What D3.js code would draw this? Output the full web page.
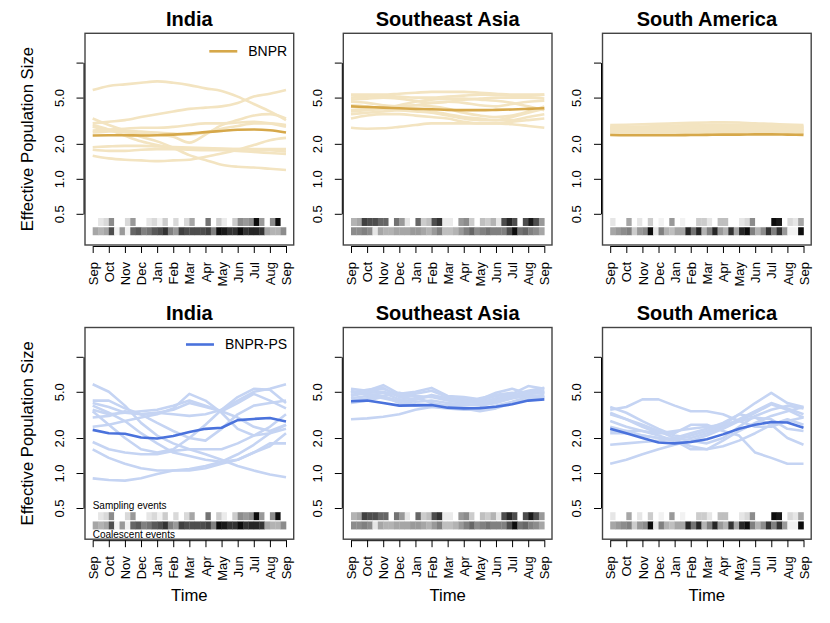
<!DOCTYPE html>
<html><head><meta charset="utf-8">
<script src="https://cdn.jsdelivr.net/npm/d3@7"></script>
<style>
body{margin:0;background:#fff}
svg{display:block}
text{font-family:"Liberation Sans",Arial,Helvetica,sans-serif;fill:#000}
</style>
</head><body><svg id="c" width="830" height="623"></svg>
<script>
const months = ["Sep","Oct","Nov","Dec","Jan","Feb","Mar","Apr","May","Jun","Jul","Aug","Sep"];
const regions = ["India","Southeast Asia","South America"];
const methods = ["BNPR","BNPR-PS"];
const yTickValues = [0.5,1,2,5,10];
const yTickLabels = ["0.5","1.0","2.0","5.0",""];
const heatLabels = ["Sampling events","Coalescent events"];

// ---- BNPR (top row) ----
const indiaBNPRMean = [2.36,2.37,2.37,2.36,2.37,2.4,2.45,2.52,2.58,2.64,2.66,2.62,2.5];
const indiaBNPRSamples = [
 [5.8,6.3,6.5,6.7,6.9,6.7,6.4,6.0,5.7,5.1,4.4,3.8,3.2],
 [3.0,3.1,3.2,3.4,3.6,3.8,4.0,4.1,4.2,4.5,5.1,5.4,5.8],
 [3.3,2.9,2.6,2.3,2.1,1.85,1.6,1.45,1.32,1.27,1.25,1.22,1.19],
 [1.58,1.5,1.46,1.44,1.42,1.44,1.46,1.55,1.65,1.78,1.95,2.15,2.25],
 [1.87,1.9,1.92,1.92,1.9,1.88,1.86,1.84,1.82,1.8,1.8,1.8,1.8],
 [1.78,1.74,1.74,1.78,1.8,1.8,1.78,1.76,1.76,1.74,1.7,1.67,1.64],
 [2.9,2.65,2.35,2.1,1.95,1.85,1.82,1.8,1.8,1.8,1.78,1.76,1.72],
 [2.8,2.6,2.5,2.45,2.4,2.3,2.05,2.4,2.9,3.2,3.5,3.6,3.3],
 [2.6,2.65,2.7,2.75,2.75,2.8,2.9,3.0,3.0,3.05,3.1,3.0,2.8],
 [2.5,2.55,2.6,2.55,2.5,2.45,2.4,2.5,2.7,2.85,3.0,3.0,2.9]
];
const seaBNPRMean = [4.2,4.15,4.1,4.05,4.0,3.97,3.92,3.9,3.9,3.92,3.95,4.0,4.05];
const seaBNPRSamples = [
 [5.3,5.3,5.3,5.4,5.5,5.6,5.6,5.6,5.5,5.4,5.3,5.3,5.3],
 [5.0,5.1,5.2,5.1,5.0,5.0,5.1,5.2,5.3,5.3,5.2,5.2,5.3],
 [4.8,4.9,5.0,4.9,4.7,4.5,4.6,4.8,4.9,5.0,5.0,5.0,4.9],
 [4.6,4.5,4.3,4.2,4.3,4.5,4.6,4.5,4.3,4.2,4.4,4.6,4.7],
 [3.9,4.0,4.1,4.2,4.3,4.2,4.0,3.7,3.5,3.4,3.5,3.8,4.2],
 [3.6,3.7,3.8,3.9,3.9,3.8,3.6,3.4,3.3,3.2,3.2,3.4,3.6],
 [3.3,3.5,3.6,3.6,3.5,3.4,3.3,3.1,3.0,3.0,3.1,3.2,3.3],
 [2.75,2.7,2.72,2.8,2.9,3.0,3.0,3.0,3.0,3.0,2.95,2.85,2.75],
 [4.3,4.2,4.0,3.9,3.8,3.7,3.5,3.3,3.2,3.2,3.4,3.7,4.0],
 [3.8,3.9,4.0,4.3,4.6,4.8,4.9,4.9,4.8,4.7,4.5,4.2,3.9]
];
const saBNPRMean = [2.38,2.37,2.37,2.37,2.37,2.38,2.39,2.4,2.4,2.41,2.41,2.4,2.39];
const saBNPRSamples = [
 [2.9,2.92,2.95,2.97,3.0,3.03,3.05,3.07,3.05,3.0,2.97,2.93,2.9],
 [2.8,2.8,2.82,2.85,2.88,2.9,2.92,2.93,2.92,2.9,2.87,2.83,2.8],
 [2.7,2.72,2.73,2.75,2.78,2.8,2.82,2.84,2.85,2.83,2.8,2.77,2.73],
 [2.6,2.62,2.63,2.65,2.67,2.7,2.72,2.75,2.75,2.73,2.7,2.67,2.63],
 [2.5,2.52,2.54,2.55,2.57,2.6,2.63,2.65,2.65,2.63,2.6,2.57,2.55],
 [2.45,2.45,2.45,2.46,2.48,2.5,2.52,2.55,2.57,2.58,2.56,2.52,2.48],
 [2.55,2.57,2.58,2.58,2.6,2.63,2.67,2.7,2.72,2.72,2.68,2.63,2.6],
 [2.75,2.74,2.72,2.7,2.72,2.75,2.8,2.86,2.9,2.92,2.9,2.86,2.8],
 [2.4,2.4,2.41,2.42,2.43,2.45,2.47,2.5,2.5,2.5,2.48,2.45,2.43],
 [2.65,2.67,2.7,2.72,2.73,2.75,2.78,2.8,2.78,2.75,2.72,2.7,2.68]
];

// ---- BNPR-PS (bottom row) ----
const indiaPSMean = [2.35,2.2,2.18,2.02,1.98,2.08,2.25,2.4,2.45,2.85,2.92,2.97,2.78];
const indiaPSSamples = [
 [5.8,5.0,3.8,2.7,2.1,1.8,1.6,1.45,1.3,1.15,1.05,0.97,0.92],
 [0.9,0.87,0.86,0.9,0.98,1.05,1.08,1.15,1.25,1.45,1.75,2.2,2.6],
 [4.2,4.2,3.6,3.2,3.3,3.5,4.0,3.7,3.4,3.0,2.5,2.3,2.6],
 [3.5,3.2,3.3,3.4,3.5,3.8,4.2,3.8,3.4,4.0,4.8,4.2,3.6],
 [3.0,3.1,3.4,3.2,2.7,2.3,2.0,1.9,2.4,3.2,3.8,4.0,4.2],
 [1.85,1.6,1.5,1.45,1.45,1.55,1.6,1.6,1.6,1.8,2.1,2.5,3.2],
 [1.6,1.35,1.2,1.1,1.05,1.05,1.05,1.1,1.2,1.3,1.5,1.7,2.2],
 [3.4,2.6,2.0,1.6,1.5,1.6,2.0,2.6,3.5,4.5,5.3,5.2,4.0],
 [2.5,2.6,2.8,3.0,3.2,3.6,4.8,4.2,3.3,2.4,2.1,2.2,2.4],
 [3.8,3.3,2.8,2.2,1.8,1.5,1.4,1.3,1.25,1.3,1.5,1.8,1.8],
 [4.0,3.7,3.3,3.2,3.3,3.2,3.1,3.2,3.5,4.2,5.0,5.3,5.8]
];
const seaPSMean = [4.15,4.2,4.0,3.8,3.82,3.85,3.65,3.6,3.62,3.72,3.9,4.2,4.3];
const seaPSSamples = [
 [2.9,2.95,3.05,3.2,3.5,3.7,3.8,3.8,3.9,4.1,4.4,4.6,4.5],
 [5.3,5.1,5.7,4.8,5.0,5.4,4.6,4.5,4.3,4.9,5.3,4.8,5.0],
 [4.9,5.2,5.4,4.5,4.3,4.7,4.4,4.3,4.2,4.6,4.8,5.6,5.3],
 [4.6,4.9,5.0,4.6,4.6,4.5,4.2,4.0,4.1,4.3,4.6,5.0,5.1],
 [4.4,4.6,4.9,4.3,4.1,4.2,4.0,3.9,3.8,4.0,4.4,4.8,4.9],
 [5.0,4.8,4.6,4.9,4.5,4.0,3.8,3.9,4.4,4.7,4.9,4.6,4.5],
 [4.2,4.4,4.6,4.0,3.8,3.7,3.6,3.5,3.5,3.8,4.1,4.5,4.6],
 [4.7,5.0,5.3,4.7,4.8,5.1,4.5,4.2,4.0,4.4,4.7,5.1,5.4],
 [4.0,4.2,4.5,4.2,3.9,3.8,3.7,3.6,3.4,3.6,4.0,4.3,4.4],
 [5.1,4.7,4.4,4.1,4.3,4.6,4.3,4.1,4.0,4.2,4.5,4.9,4.8]
];
const saPSMean = [2.4,2.2,2.0,1.83,1.8,1.85,1.95,2.15,2.4,2.6,2.75,2.72,2.45];
const saPSSamples = [
 [1.2,1.3,1.45,1.6,1.75,1.9,2.1,2.4,2.8,3.3,3.9,3.5,3.0],
 [3.7,3.3,2.8,2.4,2.1,2.0,2.2,2.5,2.9,3.4,4.0,3.6,3.2],
 [3.5,3.7,4.3,4.3,3.8,3.4,3.4,3.2,2.8,2.5,2.5,2.8,3.0],
 [3.2,2.9,2.6,2.3,2.0,1.9,1.8,2.0,2.5,3.1,3.5,3.8,3.6],
 [2.8,2.5,2.3,2.1,1.9,1.6,1.6,1.9,2.3,2.7,3.1,3.4,3.7],
 [2.3,2.3,2.3,2.2,2.2,2.6,2.6,2.3,2.1,1.5,1.35,1.2,1.2],
 [1.75,1.8,1.85,1.9,2.0,2.2,2.4,2.7,3.2,4.0,4.9,4.0,3.7],
 [2.2,2.2,2.1,2.0,1.9,2.1,2.3,2.6,3.2,3.0,2.9,2.4,2.3],
 [2.5,2.3,2.1,2.0,1.95,1.7,1.6,1.7,1.9,2.2,2.6,2.9,2.6],
 [3.3,2.9,2.5,2.2,2.3,2.4,2.5,2.6,2.8,3.0,2.6,2.0,1.75]
];

// ---- event heatmaps (36 bins, 0 = none, 1 = most) ----
const indiaSampling = [0,0.1,0.15,0.45,0,0,0.15,0.4,0,0,0.1,0.15,0.05,0.2,0,0.15,0,0.15,0.35,0,0,0.55,0,0.2,0.08,0,0.2,0.45,0.4,0.45,0.95,0.4,0,0.45,0.95,0];
const indiaCoalescent = [0.35,0.3,0.35,0.7,0.05,0.4,0.05,0.6,0.65,0.5,0.55,0.65,0.7,0.8,0.5,0.4,0.75,0.7,0.7,0.7,0.7,0.75,0.5,0.95,0.9,0.8,0.8,0.95,0.8,0.85,0.85,0.8,0.35,0.3,0.3,0.45];
const seaSampling = [0.3,0.35,0.75,0.7,0.7,0.6,0.6,0,0.55,0.4,0.1,0,0.6,0.2,0.25,0.7,0.8,0.08,0.08,0,0.4,0.45,0.2,0,0.25,0.2,0.3,0.1,0.7,0.85,0.7,0,0.7,0.9,0.7,0.4];
const seaCoalescent = [0.45,0.45,0.5,0.45,0.1,0.35,0.3,0.3,0.35,0.35,0.35,0.4,0.4,0.35,0.3,0.4,0.5,0.25,0.25,0.3,0.4,0.5,0.6,0.45,0.5,0.55,0.5,0.5,0.5,0.7,0.95,0.55,0.6,0.5,0.45,0.35];
const saSampling = [0.1,0,0,0.35,0,0.1,0,0.2,0,0.05,0,0.4,0,0.05,0,0,0.2,0.2,0.1,0,0.25,0.25,0,0,0.1,0.15,0.45,0,0,0,0.95,0.9,0,0.15,0.1,0.35];
const saCoalescent = [0.35,0.4,0.45,0.5,0.2,0.4,0.45,0.95,0.1,0.5,0.3,0.25,0.35,0.35,0.85,0.55,0.85,0.3,0.5,0.85,0.4,0.3,0.8,0.35,0.85,0.95,0.5,0.3,0.45,0.8,0.5,0.8,0.4,0.05,0.05,0.95];

const means = [[indiaBNPRMean,seaBNPRMean,saBNPRMean],[indiaPSMean,seaPSMean,saPSMean]];
const samples = [[indiaBNPRSamples,seaBNPRSamples,saBNPRSamples],[indiaPSSamples,seaPSSamples,saPSSamples]];
const samplingEv = [indiaSampling,seaSampling,saSampling];
const coalEv = [indiaCoalescent,seaCoalescent,saCoalescent];
const meanColors = ["#D6A84A","#4A72DC"];
const faintColors = ["#F3E4C1","#C5D4F3"];

// ---- layout ----
const colLeft = [85, 343.3, 602.5];
const boxW = 208.7;
const rowTop = [33.3, 327.5];
const boxH = 211.7;
const svg = d3.select("#c");

for (let r = 0; r < 2; r++) {
  for (let c = 0; c < 3; c++) {
    const L = colLeft[c], T = rowTop[r], R = L + boxW, B = T + boxH;
    const x = d3.scaleLinear().domain([0, 12]).range([L + 7.7, R - 7.7]);
    const y = d3.scaleLog().domain([0.5, 10]).range([T + 180.5, T + 29.3]);
    const g = svg.append("g");

    // heatmaps
    const bands = [[samplingEv[c], 0.46, 0.393], [coalEv[c], 0.383, 0.327]];
    bands.forEach(([vals, hi, lo]) => {
      g.selectAll(null).data(vals).enter().append("rect")
        .attr("x", (d, i) => x(i / 3))
        .attr("width", (d, i) => x((i + 1) / 3) - x(i / 3) + 0.3)
        .attr("y", y(hi))
        .attr("height", y(lo) - y(hi))
        .attr("fill", d => { const v = Math.round(255 * (1 - d)); return `rgb(${v},${v},${v})`; });
    });

    const line = d3.line().x((d, i) => x(i)).y(d => y(d))
      .curve(r === 0 ? d3.curveMonotoneX : d3.curveLinear);
    g.selectAll(null).data(samples[r][c]).enter().append("path")
      .attr("d", line).attr("fill", "none")
      .attr("stroke", faintColors[r])
      .attr("stroke-width", 2.6).attr("stroke-linejoin", "round");
    g.append("path").datum(means[r][c]).attr("d", line).attr("fill", "none")
      .attr("stroke", meanColors[r]).attr("stroke-width", 2.6).attr("stroke-linejoin", "round");

    // box
    g.append("rect").attr("x", L).attr("y", T).attr("width", boxW).attr("height", boxH)
      .attr("fill", "none").attr("stroke", "#444").attr("stroke-width", 1.4);

    // y axis
    const ya = g.append("g").attr("transform", `translate(${L - 1.5},0)`)
      .call(d3.axisLeft(y).tickValues(yTickValues).tickFormat((d, i) => yTickLabels[i]).tickSize(7).tickSizeOuter(0));
    ya.select(".domain").attr("stroke", "#000");
    ya.selectAll("text").attr("transform", "rotate(-90)").attr("x", 0).attr("y", -19.8)
      .attr("dy", 0).attr("text-anchor", "middle").style("font-size", "13px").attr("fill", "#000");
    ya.attr("font-family", null);

    // x axis
    const xa = g.append("g").attr("transform", `translate(0,${B + 1})`)
      .call(d3.axisBottom(x).tickValues(d3.range(13)).tickFormat(i => months[i]).tickSize(7).tickSizeOuter(0));
    xa.selectAll("text").attr("transform", "rotate(-90)").attr("x", -16).attr("y", 4.6)
      .attr("dy", 0).attr("text-anchor", "end").style("font-size", "13px").attr("fill", "#000");
    xa.attr("font-family", null);

    // title
    g.append("text").attr("x", L + boxW / 2).attr("y", T - 7.5).attr("text-anchor", "middle")
      .style("font-size", "20px").style("font-weight", "bold").text(regions[c]);

    if (c === 0) {
      g.append("text").attr("transform", `translate(${L - 52},${T + boxH / 2}) rotate(-90)`)
        .attr("text-anchor", "middle").style("font-size", "16.7px").text("Effective Population Size");
      // legend
      const lt = g.append("text").attr("x", R - 6.5).attr("y", T + 22.5 + (r === 1 ? -1 : 0))
        .attr("text-anchor", "end").style("font-size", "14px").text(methods[r]);
      const tw = lt.node().getComputedTextLength();
      const sx = R - 6.5 - tw;
      g.append("line").attr("x1", sx - 39).attr("x2", sx - 11)
        .attr("y1", T + 18 + (r === 1 ? -1 : 0)).attr("y2", T + 18 + (r === 1 ? -1 : 0))
        .attr("stroke", meanColors[r]).attr("stroke-width", 2.6);
      if (r === 1) {
        g.append("text").attr("x", x(0)).attr("y", y(0.46) - 3).style("font-size", "10px").text(heatLabels[0]);
        g.append("text").attr("x", x(0)).attr("y", y(0.327) + 8.5).style("font-size", "10px").text(heatLabels[1]);
      }
    }
    if (r === 1) {
      g.append("text").attr("x", L + boxW / 2).attr("y", B + 62).attr("text-anchor", "middle")
        .style("font-size", "16.7px").text("Time");
    }
  }
}
</script>
</body></html>
